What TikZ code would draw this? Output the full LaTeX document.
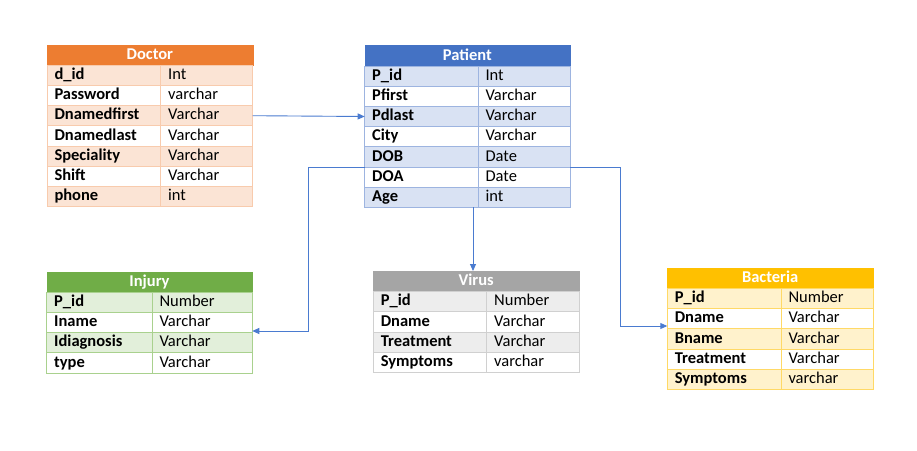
\documentclass[tikz,border=0pt]{standalone}
\usepackage{fontspec}
\setmainfont{Carlito}
\usetikzlibrary{arrows.meta}
\definecolor{docH}{HTML}{ED7D31}\definecolor{docL}{HTML}{FBE4D5}\definecolor{docB}{HTML}{F8CBAD}
\definecolor{patH}{HTML}{4472C4}\definecolor{patL}{HTML}{D9E2F3}\definecolor{patB}{HTML}{9DB4E0}
\definecolor{injH}{HTML}{70AD47}\definecolor{injL}{HTML}{E2EFDA}\definecolor{injB}{HTML}{A9D18E}
\definecolor{virH}{HTML}{A5A5A5}\definecolor{virL}{HTML}{EDEDED}\definecolor{virB}{HTML}{D0D0D0}
\definecolor{bacH}{HTML}{FFC000}\definecolor{bacL}{HTML}{FFF2CC}\definecolor{bacB}{HTML}{FFD966}
\definecolor{arrowC}{HTML}{4A7BD0}
\newcommand\ERhead[3]{%
  \pgfmathsetlengthmacro\ERhw{\ETa+\ETb-15}%
  \node[headcell, fill=#3, draw=#3, text width=\ERhw, anchor=north west] (#1) at (\ETx,\ETy-20.5) {#2};}
\newcommand\ERrow[5]{%
  \pgfmathsetlengthmacro\ERwa{\ETa-15}%
  \pgfmathsetlengthmacro\ERwb{\ETb-15}%
  \node[fcell, fill=#5, text width=\ERwa, anchor=north west] (#1) at (\ETx,\ETy+#2*20.2) {#3};
  \node[tcell, fill=#5, text width=\ERwb, anchor=north west] (#1t) at (\ETx+\ETa,\ETy+#2*20.2) {#4};}
\begin{document}
\begin{tikzpicture}[x=1pt,y=-1pt,
  cell/.style={minimum height=20.2pt, inner xsep=7.5pt, inner ysep=0pt, outer sep=0pt,
    text height=11.5pt, text depth=3pt, align=left, line width=0.8pt},
  fcell/.style={cell, font=\fontsize{16.5}{19}\selectfont\bfseries},
  tcell/.style={cell, font=\fontsize{16.5}{19}\selectfont},
  headcell/.style={minimum height=20.5pt, inner xsep=7.5pt, inner ysep=0pt, outer sep=0pt,
    text height=11.5pt, text depth=3pt, align=center, text=white,
    font=\fontsize{16.5}{19}\selectfont\bfseries},
  conn/.style={draw=arrowC, line width=0.9pt, -{Triangle[length=7pt,width=6pt]}}]
\useasboundingbox[fill=white] (0,0) rectangle (917,450);
% Doctor
\begin{scope}[cell/.append style={draw=docB}]
\def\ETx{47}\def\ETy{65.2}\def\ETa{113.7}\def\ETb{92}
\ERhead{doctor}{Doctor}{docH}
\ERrow{did}{0}{d\_id}{Int}{docL}
\ERrow{password}{1}{Password}{varchar}{white}
\ERrow{dnamedfirst}{2}{Dnamedfirst}{Varchar}{docL}
\ERrow{dnamedlast}{3}{Dnamedlast}{Varchar}{white}
\ERrow{speciality}{4}{Speciality}{Varchar}{docL}
\ERrow{shift}{5}{Shift}{Varchar}{white}
\ERrow{phone}{6}{phone}{int}{docL}
\end{scope}
% Patient
\begin{scope}[cell/.append style={draw=patB}]
\def\ETx{364.7}\def\ETy{66}\def\ETa{113.3}\def\ETb{92}
\ERhead{patient}{Patient}{patH}
\ERrow{pid}{0}{P\_id}{Int}{patL}
\ERrow{pfirst}{1}{Pfirst}{Varchar}{white}
\ERrow{pdlast}{2}{Pdlast}{Varchar}{patL}
\ERrow{city}{3}{City}{Varchar}{white}
\ERrow{dob}{4}{DOB}{Date}{patL}
\ERrow{doa}{5}{DOA}{Date}{white}
\ERrow{age}{6}{Age}{int}{patL}
\end{scope}
% Injury
\begin{scope}[cell/.append style={draw=injB}]
\def\ETx{46.7}\def\ETy{292.2}\def\ETa{105.3}\def\ETb{100.3}
\ERhead{injury}{Injury}{injH}
\ERrow{ipid}{0}{P\_id}{Number}{injL}
\ERrow{iname}{1}{Iname}{Varchar}{white}
\ERrow{idiagnosis}{2}{Idiagnosis}{Varchar}{injL}
\ERrow{itype}{3}{type}{Varchar}{white}
\end{scope}
% Virus
\begin{scope}[cell/.append style={draw=virB}]
\def\ETx{373.3}\def\ETy{291.5}\def\ETa{113.4}\def\ETb{92.3}
\ERhead{virus}{Virus}{virH}
\ERrow{vpid}{0}{P\_id}{Number}{virL}
\ERrow{vdname}{1}{Dname}{Varchar}{white}
\ERrow{vtreatment}{2}{Treatment}{Varchar}{virL}
\ERrow{vsymptoms}{3}{Symptoms}{varchar}{white}
\end{scope}
% Bacteria
\begin{scope}[cell/.append style={draw=bacB}]
\def\ETx{667.3}\def\ETy{288.3}\def\ETa{113.7}\def\ETb{92}
\ERhead{bacteria}{Bacteria}{bacH}
\ERrow{bpid}{0}{P\_id}{Number}{bacL}
\ERrow{bdname}{1}{Dname}{Varchar}{white}
\ERrow{bbname}{2}{Bname}{Varchar}{bacL}
\ERrow{btreatment}{3}{Treatment}{Varchar}{white}
\ERrow{bsymptoms}{4}{Symptoms}{varchar}{bacL}
\end{scope}
% connectors
\coordinate (bendA) at (308,331);
\coordinate (bendB) at (620,326);
\coordinate (pvx) at (473,0);
\draw[conn] (dnamedfirstt.east) -- (pdlast.west);
\draw[conn] (dob.south west) -| (bendA) -- (inamet.east |- bendA);
\draw[conn] (age.south -| pvx) -- (virus.north -| pvx);
\draw[conn] (doat.north east) -| (bendB) -- (bdname.west |- bendB);
\end{tikzpicture}
\end{document}
